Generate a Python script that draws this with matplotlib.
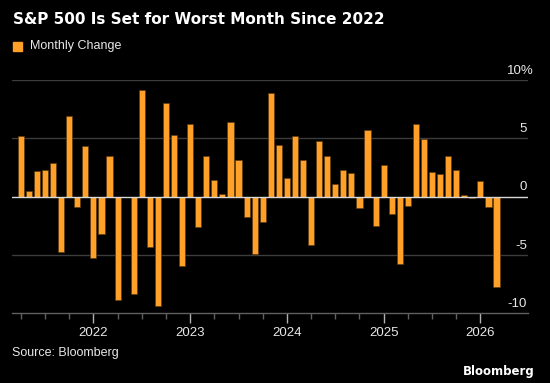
import matplotlib
matplotlib.use("Agg")
import matplotlib.pyplot as plt
import matplotlib.transforms as mtransforms
import pandas as pd

# monthly change of the S&P 500, Apr 2021 .. Mar 2026 (%)
START = "2021-04"
changes = [
    5.2, 0.5, 2.2, 2.3, 2.9, -4.8, 6.9, -0.9, 4.3,            # 2021
    -5.3, -3.2, 3.5, -8.9, 0.0, -8.4, 9.1, -4.3, -9.4, 8.0, 5.3, -6.0,  # 2022
    6.2, -2.6, 3.5, 1.4, 0.2, 6.4, 3.1, -1.8, -4.9, -2.2, 8.9, 4.4,     # 2023
    1.6, 5.2, 3.1, -4.2, 4.8, 3.5, 1.1, 2.3, 2.0, -1.0, 5.7, -2.5,      # 2024
    2.7, -1.5, -5.8, -0.8, 6.2, 4.9, 2.1, 1.9, 3.5, 2.3, 0.1, -0.1,     # 2025
    1.3, -0.9, -7.8,                                                     # 2026
]
ytick_vals = [10, 5, 0, -5, -10]
ytick_text = ["10%", "5", "0", "-5", "-10"]

TITLE = "S&P 500 Is Set for Worst Month Since 2022"
LEGEND = "Monthly Change"
SOURCE = "Source: Bloomberg"

BG = "#000000"
ORANGE = "#FFA028"
GRID = "#3c3c3c"
TXT = "#e8e8e8"

months = pd.period_range(START, periods=len(changes), freq="M")
x = list(range(len(months)))
year_idx = [i for i, m in enumerate(months) if m.month == 1]
qtr_idx = [i for i, m in enumerate(months) if m.month in (4, 7, 10)]

plt.rcParams["font.family"] = ["Liberation Sans", "DejaVu Sans"]

fig = plt.figure(figsize=(5.5, 3.83), dpi=100, facecolor=BG)
ax = fig.add_axes([12 / 550, 70 / 383, 516 / 550, 233 / 383], facecolor=BG)

ax.bar(x, changes, width=0.76, color=ORANGE, edgecolor="#5a3a10",
       linewidth=0.5, zorder=3)

ax.set_xlim(-1.1, 62.9)
ax.set_ylim(-10, 10)

for v in ytick_vals:
    if v == 0:
        ax.axhline(0, color="#d8d8d8", lw=1.0, zorder=4)
    elif v != -10:
        ax.axhline(v, color=GRID, lw=1.0, zorder=1)

# y labels sit above their gridline at the right end; the % hangs past it
tr = mtransforms.blended_transform_factory(ax.transAxes, ax.transData)
for v, s in zip(ytick_vals, ytick_text):
    dx = 6 if s.endswith("%") else -1
    off = mtransforms.offset_copy(tr, fig=fig, x=dx, y=3, units="dots")
    ax.text(1.0, v, s, transform=off, ha="right", va="bottom",
            color=TXT, fontsize=9.5)

for side in ("top", "right", "left"):
    ax.spines[side].set_visible(False)
ax.spines["bottom"].set_color("#606060")
ax.spines["bottom"].set_linewidth(1.0)
ax.set_yticks([])

ax.set_xticks(year_idx)
ax.set_xticklabels([str(months[i].year) for i in year_idx])
ax.set_xticks(qtr_idx, minor=True)
ax.tick_params(axis="x", which="major", length=7, width=1.0, color="#b0b0b0",
               labelcolor=TXT, labelsize=9.5, pad=3)
ax.tick_params(axis="x", which="minor", length=4, width=1.0, color="#606060")

fig.text(13 / 550, 1 - 20 / 383, TITLE, color="white", fontsize=11,
         fontweight="bold", family="DejaVu Sans", ha="left", va="center")

fig.patches.append(plt.Rectangle((13 / 550, 1 - 51 / 383), 9 / 550, 9 / 383,
                                 transform=fig.transFigure, color=ORANGE,
                                 figure=fig))
fig.text(30 / 550, 1 - 46 / 383, LEGEND, color=TXT, fontsize=9,
         ha="left", va="center")

fig.text(12 / 550, 1 - 353 / 383, SOURCE, color=TXT, fontsize=9,
         ha="left", va="center")
fig.text(535 / 550, 1 - 371 / 383, "Bloomberg", color="white", fontsize=8.5,
         fontweight="bold", family="DejaVu Sans", ha="right", va="center")

fig.savefig("out.png", dpi=100, facecolor=BG)
